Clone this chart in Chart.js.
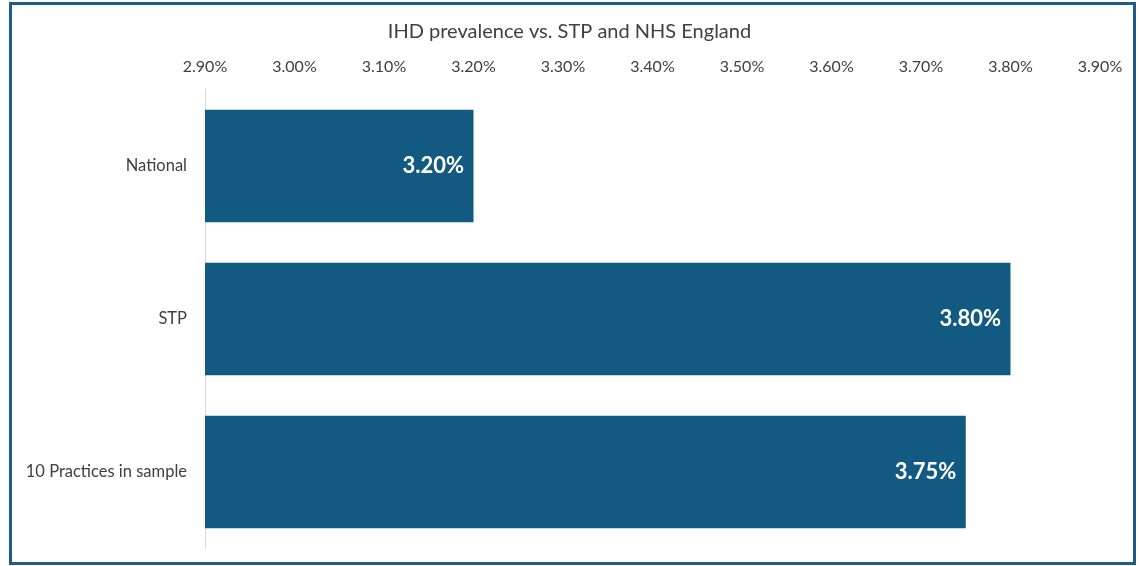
<!DOCTYPE html>
<html>
<head>
<meta charset="utf-8">
<script src="https://cdn.jsdelivr.net/npm/chart.js@4"></script>
<style>
  html, body { margin: 0; padding: 0; background: #fff; }
  #wrap { position: relative; width: 1139px; height: 566px; }
  #frame { position: absolute; left: 9px; top: 2px; width: 1121px; height: 557px; border: 3px solid #1f5b87; pointer-events: none; }
</style>
</head>
<body>
<div id="wrap">
  <canvas id="c" width="1139" height="566"></canvas>
  <div id="frame"></div>
</div>
<script>
const categories = ["National", "STP", "10 Practices in sample"];
const prevalence = [3.20, 3.80, 3.75];
const axisMin = 2.90;
const axisMax = 3.90;
const axisStep = 0.10;
const chartTitle = "IHD prevalence vs. STP and NHS England";

const FONT = "Lato, 'Open Sans', sans-serif";

const valueLabels = {
  id: 'valueLabels',
  afterDatasetsDraw(chart) {
    const ctx = chart.ctx;
    const meta = chart.getDatasetMeta(0);
    ctx.save();
    ctx.fillStyle = '#ffffff';
    ctx.font = "bold 22px " + FONT;
    ctx.textAlign = 'right';
    ctx.textBaseline = 'middle';
    meta.data.forEach((bar, i) => {
      const v = chart.data.datasets[0].data[i];
      ctx.fillText(v.toFixed(2) + '%', bar.x - 9.5, bar.y);
    });
    ctx.restore();
  }
};

new Chart(document.getElementById('c'), {
  type: 'bar',
  data: {
    labels: categories,
    datasets: [{
      data: prevalence,
      backgroundColor: '#135a82',
      borderWidth: 0,
      barPercentage: 0.735,
      categoryPercentage: 1.0
    }]
  },
  options: {
    indexAxis: 'y',
    responsive: false,
    animation: false,
    layout: { padding: { left: 0, right: 0, top: 0, bottom: 17.5 } },
    plugins: {
      legend: { display: false },
      tooltip: { enabled: false },
      title: {
        display: true,
        text: chartTitle,
        color: '#404040',
        font: { family: FONT, size: 20, weight: 'normal', lineHeight: 1.2 },
        padding: { top: 20, bottom: 7 }
      }
    },
    scales: {
      x: {
        position: 'top',
        min: axisMin,
        max: axisMax,
        grid: { display: false, drawTicks: false },
        border: { display: false },
        afterFit(s) { s.height = 38.5; s.paddingLeft = 0; s.paddingRight = 0; },
        ticks: {
          stepSize: axisStep,
          color: '#404040',
          font: { family: FONT, size: 16 },
          padding: 13.5,
          maxRotation: 0,
          callback: (v) => Number(v).toFixed(2) + '%'
        }
      },
      y: {
        grid: { display: false, drawTicks: false },
        border: { display: true, color: '#d9d9d9', width: 1 },
        afterFit(s) { s.width = 205; s.paddingTop = 0; s.paddingBottom = 0; },
        ticks: {
          color: '#404040',
          font: { family: FONT, size: 16.5 },
          padding: 18
        }
      },
      yRight: {
        type: 'category',
        position: 'right',
        display: true,
        grid: { display: false, drawTicks: false },
        border: { display: false },
        ticks: { display: false },
        afterFit(s) { s.width = 39; s.paddingTop = 0; s.paddingBottom = 0; }
      }
    }
  },
  plugins: [valueLabels]
});
</script>
</body>
</html>
